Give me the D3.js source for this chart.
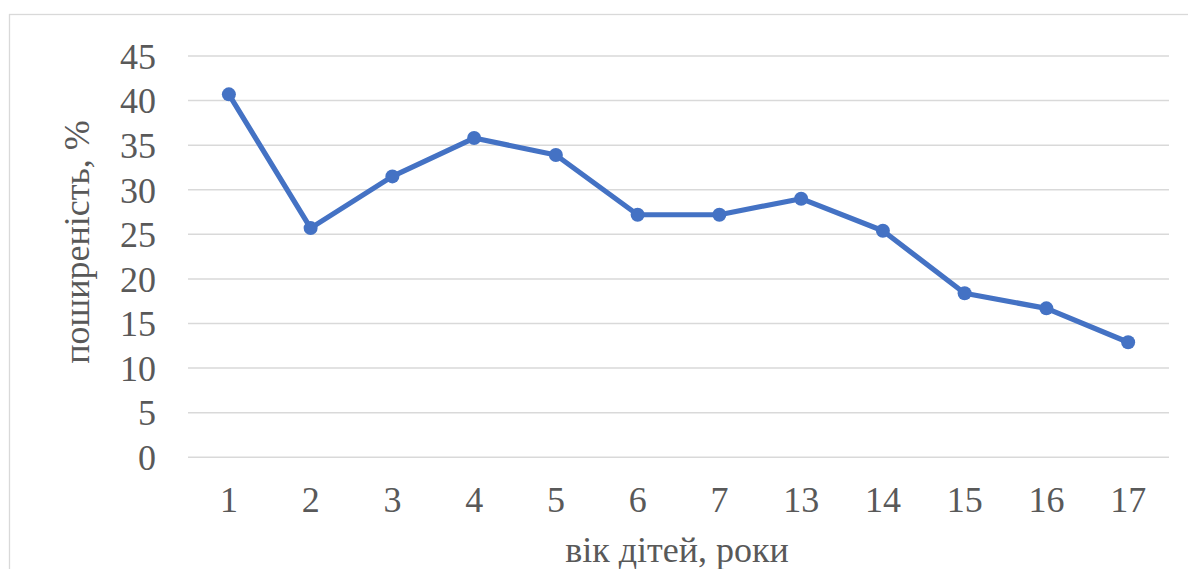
<!DOCTYPE html>
<html>
<head>
<meta charset="utf-8">
<script src="https://cdn.jsdelivr.net/npm/d3@7"></script>
<style>
  html, body { margin: 0; padding: 0; background: #fff; }
  svg { display: block; }
</style>
</head>
<body>
<svg id="chart" width="1188" height="569"></svg>
<script>
// Age groups (years) and prevalence values (%)
const ages = ["1", "2", "3", "4", "5", "6", "7", "13", "14", "15", "16", "17"];
const prevalence = [40.7, 25.7, 31.5, 35.8, 33.9, 27.2, 27.2, 29.0, 25.4, 18.4, 16.7, 12.9];
const yTicks = [0, 5, 10, 15, 20, 25, 30, 35, 40, 45];
const xTitle = "вік дітей, роки";
const yTitle = "поширеність, %";

const W = 1188, H = 569;
const plot = { left: 188, right: 1169, top: 56, bottom: 457.3 };
const font = "'Liberation Serif', 'Times New Roman', serif";
const textColor = "#595959";

const svg = d3.select("#chart");

// chart-area frame (runs off the right and bottom edges)
svg.append("rect")
  .attr("x", 9.5).attr("y", 14.5)
  .attr("width", 1200).attr("height", 600)
  .attr("fill", "#fff")
  .attr("stroke", "#d9d9d9").attr("stroke-width", 1.3);

const x = d3.scaleBand().domain(ages).range([plot.left, plot.right]);
const y = d3.scaleLinear().domain([0, 45]).range([plot.bottom, plot.top]);

// horizontal gridlines
svg.append("g")
  .selectAll("line")
  .data(yTicks)
  .join("line")
  .attr("x1", plot.left).attr("x2", plot.right)
  .attr("y1", d => y(d)).attr("y2", d => y(d))
  .attr("stroke", "#d9d9d9").attr("stroke-width", 1.5);

// y axis labels
const yAxis = d3.axisLeft(y).tickValues(yTicks).tickSize(0).tickPadding(0);
const yg = svg.append("g").attr("transform", `translate(${156},0)`).call(yAxis);
yg.select(".domain").remove();
yg.selectAll("text")
  .attr("font-family", font).attr("font-size", 36)
  .attr("fill", textColor).attr("dy", "0.34em");

// x axis labels
const xAxis = d3.axisBottom(x).tickSize(0).tickPadding(0);
const xg = svg.append("g").attr("transform", `translate(0,${plot.bottom})`).call(xAxis);
xg.select(".domain").remove();
xg.selectAll("text")
  .attr("font-family", font).attr("font-size", 36)
  .attr("fill", textColor).attr("dy", null).attr("y", 55);

// data line
const line = d3.line()
  .x((d, i) => x(ages[i]) + x.bandwidth() / 2)
  .y(d => y(d));

svg.append("path")
  .datum(prevalence)
  .attr("d", line)
  .attr("fill", "none")
  .attr("stroke", "#4472C4")
  .attr("stroke-width", 5.2)
  .attr("stroke-linejoin", "round");

svg.append("g")
  .selectAll("circle")
  .data(prevalence)
  .join("circle")
  .attr("cx", (d, i) => x(ages[i]) + x.bandwidth() / 2)
  .attr("cy", d => y(d))
  .attr("r", 7)
  .attr("fill", "#4472C4");

// axis titles
svg.append("text")
  .attr("x", 677).attr("y", 562)
  .attr("text-anchor", "middle")
  .attr("font-family", font).attr("font-size", 36)
  .attr("fill", textColor)
  .text(xTitle);

svg.append("text")
  .attr("transform", `translate(89,242) rotate(-90)`)
  .attr("text-anchor", "middle")
  .attr("font-family", font).attr("font-size", 36)
  .attr("fill", textColor)
  .text(yTitle);
</script>
</body>
</html>
